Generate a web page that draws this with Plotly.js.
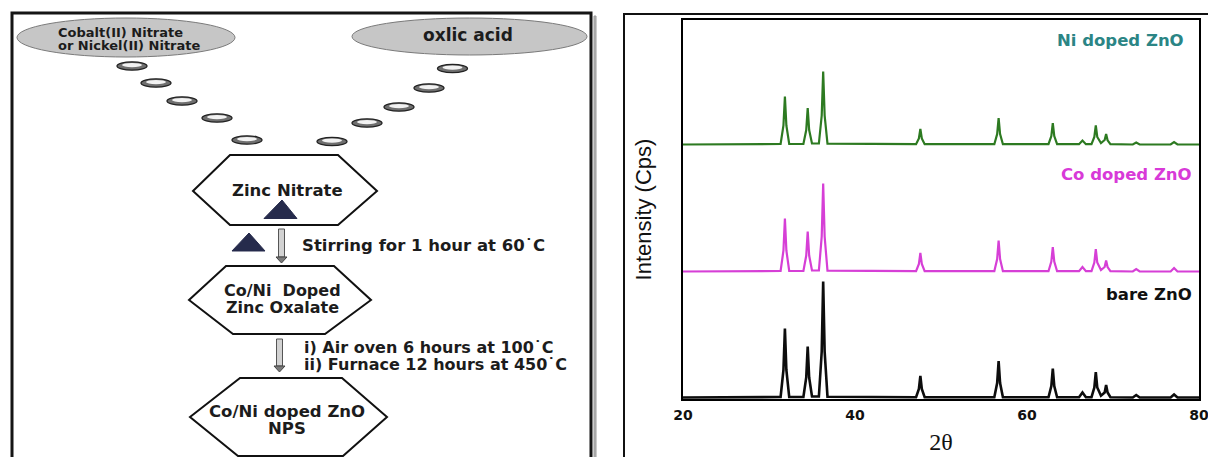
<!DOCTYPE html>
<html>
<head>
<meta charset="utf-8">
<script src="https://cdn.plot.ly/plotly-3.0.1.min.js"></script>
<style>html,body{margin:0;padding:0;background:#fff;overflow:hidden}</style>
</head>
<body>
<div id="chart" style="width:1208px;height:457px"></div>
<script>
// ---------- DATA ----------
const twoTheta = [20, 31.35, 31.68, 31.85, 32.02, 32.35, 34.0, 34.33, 34.5, 34.67, 35.0,
  35.8, 36.13, 36.3, 36.47, 36.8, 47.1, 47.43, 47.6, 47.77, 48.1,
  56.2, 56.53, 56.7, 56.87, 57.2, 62.5, 62.83, 63.0, 63.17, 63.5,
  66.05, 66.45, 66.85, 67.5, 67.83, 68.0, 68.17, 68.6, 69.03, 69.2, 69.37, 69.7,
  72.3, 72.7, 73.1, 76.7, 77.1, 77.5, 80];

const niDoped = [0, 0.5, 19, 48, 19, 0.5, 0.5, 14.5, 36.5, 14.5, 1,
  1, 29, 73, 29, 0.8, 0.3, 6, 15.5, 6, 0.3,
  0.3, 10.5, 26.5, 10.5, 0.3, 0.3, 8.5, 21.5, 8.5, 0.3,
  0.3, 4, 0.3, 0.3, 7.5, 19, 7.5, 1.5, 4.5, 10.5, 4.2, 0.3,
  0, 2, 0, 0, 2.5, 0, 0];

const coDoped = [0, 0.5, 21, 53, 21, 0.5, 0.5, 16, 40, 16, 1,
  1, 35, 88, 35, 0.8, 0.3, 7.5, 18.5, 7.5, 0.3,
  0.3, 12.5, 31, 12.5, 0.3, 0.3, 10, 24.5, 10, 0.3,
  0.3, 4.5, 0.3, 0.3, 9, 22.5, 9, 1.5, 4.5, 11, 4.4, 0.3,
  0, 2.5, 0, 0, 3.5, 0, 0];

const bareZnO = [0, 0.5, 27.5, 69, 27.5, 0.5, 0.5, 20, 51, 20, 1,
  1, 46, 116, 46, 0.8, 0.3, 8.5, 21.5, 8.5, 0.3,
  0.3, 14.5, 36.5, 14.5, 0.3, 0.3, 11.5, 29, 11.5, 0.3,
  0.3, 5, 0.3, 0.3, 10, 25.5, 10, 1.8, 5, 12.5, 5, 0.3,
  0, 2.5, 0, 0, 3, 0, 0];

const seriesNames = ['Ni doped ZnO', 'Co doped ZnO', 'bare ZnO'];
const xTicks = [20, 40, 60, 80];

// ---------- LAYOUT HELPERS ----------
const W = 1208, H = 457;
const px = v => v / W;
const py = v => 1 - v / H;
function poly(pts) {
  return 'M' + pts.map(p => px(p[0]).toFixed(5) + ',' + py(p[1]).toFixed(5)).join('L') + 'Z';
}

// vertical stacking offsets of the three patterns
const offsets = [254.5, 127.5, 1.5];
const lineColors = ['#2d7a21', '#d63fd6', '#0d0d0d'];
const labelColors = ['#2b8585', '#d83ad8', '#111111'];
const lineWidths = [2.2, 2.2, 2.6];
const seriesData = [niDoped, coDoped, bareZnO];

const traces = seriesData.map((vals, i) => ({
  type: 'scatter', mode: 'lines',
  x: twoTheta,
  y: vals.map(v => v + offsets[i]),
  name: seriesNames[i],
  line: {color: lineColors[i], width: lineWidths[i]},
  hoverinfo: 'skip'
}));

// ---------- FLOW DIAGRAM (left panel) ----------
const shapes = [];
const P = {xref: 'paper', yref: 'paper'};
// panel frames
shapes.push(Object.assign({type: 'rect', x0: px(12), x1: px(591), y0: py(470), y1: py(13),
  line: {color: '#151515', width: 3}, fillcolor: 'rgba(0,0,0,0)'}, P));
shapes.push(Object.assign({type: 'rect', x0: px(594), x1: px(596), y0: py(470), y1: py(16),
  line: {color: '#9a9a9a', width: 1}, fillcolor: '#b5b5b5'}, P));
shapes.push(Object.assign({type: 'rect', x0: px(624), x1: px(1216), y0: py(470), y1: py(14),
  line: {color: '#111', width: 2}, fillcolor: 'rgba(0,0,0,0)'}, P));

// reagent ellipses
shapes.push(Object.assign({type: 'circle', x0: px(17), x1: px(235), y0: py(57), y1: py(18),
  fillcolor: '#c6c6c6', line: {color: '#7a7a7a', width: 1}}, P));
shapes.push(Object.assign({type: 'circle', x0: px(352), x1: px(587), y0: py(55), y1: py(18),
  fillcolor: '#c6c6c6', line: {color: '#7a7a7a', width: 1}}, P));

// droplets
const drops = [[132, 66], [156, 83], [182, 101], [217, 118], [247, 140],
  [452.5, 68.5], [429, 88], [399, 107], [367, 123], [332, 141.5]];
drops.forEach(d => {
  shapes.push(Object.assign({type: 'circle', x0: px(d[0] - 15), x1: px(d[0] + 15),
    y0: py(d[1] + 4.2), y1: py(d[1] - 4.2), fillcolor: '#6f6f6f', line: {color: '#222', width: 1.3}}, P));
  shapes.push(Object.assign({type: 'circle', x0: px(d[0] - 10), x1: px(d[0] + 10),
    y0: py(d[1] + 1.2), y1: py(d[1] - 3), fillcolor: '#f2f2f2', line: {width: 0}}, P));
});

// hexagons
const hexes = [
  [[193, 191], [230, 155], [338, 155], [377, 191], [338, 225], [230, 225]],
  [[189, 300], [226, 266], [334, 266], [371, 300], [325, 334], [233, 334]],
  [[190, 417], [240, 378], [342, 378], [387, 417], [343, 456], [238, 456]]
];
hexes.forEach(h => shapes.push(Object.assign({type: 'path', path: poly(h),
  fillcolor: '#ffffff', line: {color: '#111', width: 2}}, P)));

// triangles
[[[282, 200], [264, 218.5], [297, 218.5]], [[249, 233], [232, 251], [265, 251]]].forEach(t =>
  shapes.push(Object.assign({type: 'path', path: poly(t), fillcolor: '#262b4c',
    line: {color: '#262b4c', width: 1}}, P)));

// arrows
[[281.5, 229, 257], [279.5, 339, 366]].forEach(a => {
  shapes.push(Object.assign({type: 'rect', x0: px(a[0] - 3), x1: px(a[0] + 3), y0: py(a[2]), y1: py(a[1]),
    fillcolor: '#d2d2d2', line: {color: '#555', width: 1}}, P));
  shapes.push(Object.assign({type: 'path', path: poly([[a[0] - 5.5, a[2]], [a[0] + 5.5, a[2]], [a[0], a[2] + 6]]),
    fillcolor: '#7a7a7a', line: {color: '#444', width: 1}}, P));
});

const DJ = 'DejaVu Sans, Arial, sans-serif';
function ann(text, x, y, size, xanchor, color) {
  return {text: '<b>' + text + '</b>', xref: 'paper', yref: 'paper', x: px(x), y: py(y),
    xanchor: xanchor, yanchor: 'middle', showarrow: false, borderpad: 0,
    font: {family: DJ, size: size, color: color || '#1c1c1c'}};
}
const annotations = [
  ann('Cobalt(II) Nitrate', 57, 32.5, 13, 'left'),
  ann('or Nickel(II) Nitrate', 57, 45.5, 13, 'left'),
  ann('oxlic acid', 467.5, 35, 17, 'center'),
  ann('Zinc Nitrate', 287, 190.5, 16.5, 'center'),
  ann('Stirring for 1 hour at 60˙C', 300.5, 245.5, 16.5, 'left'),
  ann('Co/Ni\u00a0 Doped', 282, 290.5, 16, 'center'),
  ann('Zinc Oxalate', 282, 307.8, 16, 'center'),
  ann('i) Air oven 6 hours at 100˙C', 302.5, 347.5, 16, 'left'),
  ann('ii) Furnace 12 hours at 450˙C', 302.5, 364, 16, 'left'),
  ann('Co/Ni doped ZnO', 287, 411, 16.5, 'center'),
  ann('NPS', 287, 428, 16.5, 'center'),
  ann(seriesNames[0], 1185, 40, 16.5, 'right', labelColors[0]),
  ann(seriesNames[1], 1193, 174, 16.5, 'right', labelColors[1]),
  ann(seriesNames[2], 1193, 294, 16.5, 'right', labelColors[2])
];

const layout = {
  width: W, height: H,
  margin: {l: 0, r: 0, t: 0, b: 0},
  paper_bgcolor: '#ffffff', plot_bgcolor: '#ffffff',
  showlegend: false,
  xaxis: {
    domain: [px(683), px(1199)], range: [20, 80], tickvals: xTicks, ticktext: xTicks.map(String),
    showline: true, mirror: true, linecolor: '#000', linewidth: 2, ticks: '',
    showgrid: false, zeroline: false, ticklabelstandoff: 2, ticklabeloverflow: 'allow',
    tickfont: {family: DJ, size: 14, color: '#111', weight: 'bold'},
    title: {text: '2θ', font: {family: 'Liberation Serif, Times New Roman, serif', size: 24, color: '#111'}, standoff: 11}
  },
  yaxis: {
    domain: [py(399), py(20)], range: [0, 379],
    showline: true, mirror: true, linecolor: '#000', linewidth: 2,
    showticklabels: false, ticks: '', showgrid: false, zeroline: false,
    title: {text: 'Intensity (Cps)', font: {family: 'Liberation Sans, Arial, sans-serif', size: 22, color: '#111'}, standoff: 23}
  },
  shapes: shapes,
  annotations: annotations
};

Plotly.newPlot('chart', traces, layout, {displayModeBar: false, staticPlot: true});
</script>
</body>
</html>
